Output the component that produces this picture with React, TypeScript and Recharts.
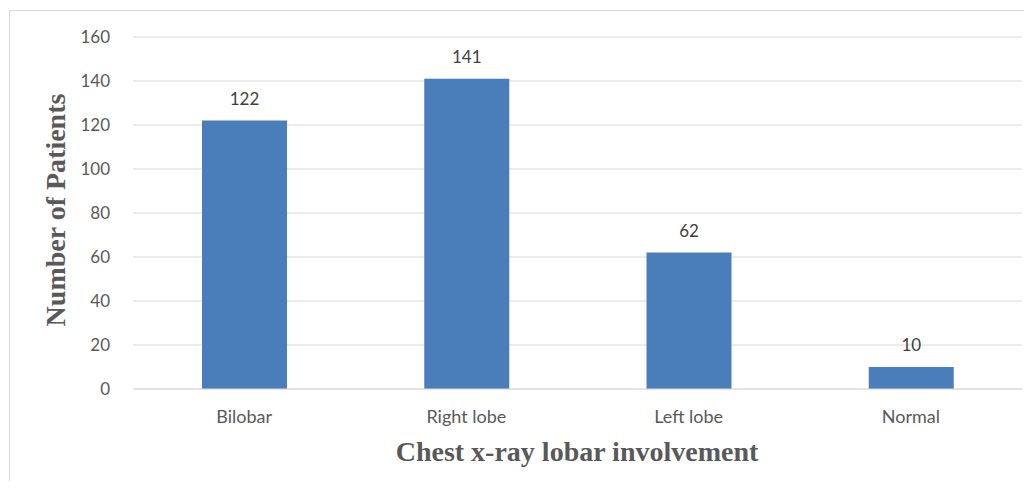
import React from "react";
import { BarChart, Bar, XAxis, YAxis, CartesianGrid, LabelList } from "recharts";

const categories = ["Bilobar", "Right lobe", "Left lobe", "Normal"];
const patients = [122, 141, 62, 10];
const yTicks = [0, 20, 40, 60, 80, 100, 120, 140, 160];

const data = categories.map((name, i) => ({ name, value: patients[i] }));

export default function App() {
  return (
    <div style={{ position: "relative", width: 1032, height: 489, margin: -8, overflow: "hidden", background: "#fff" }}>
      <div
        style={{
          position: "absolute",
          left: 9,
          top: 10,
          width: 1200,
          height: 700,
          border: "1.5px solid #d9d9d9",
          boxSizing: "border-box",
        }}
      />
      <div style={{ position: "absolute", left: 0, top: 0 }}>
        <BarChart
          width={1032}
          height={489}
          data={data}
          margin={{ top: 37, right: 10, bottom: 60, left: 0 }}
        >
          <CartesianGrid vertical={false} stroke="#d9d9d9" strokeWidth={1} />
          <XAxis
            dataKey="name"
            height={40}
            axisLine={{ stroke: "#d9d9d9" }}
            tickLine={false}
            tickSize={19}
            tick={{ fill: "#595959", fontSize: 18, fontFamily: "Lato, 'Open Sans', sans-serif" }}
          />
          <YAxis
            width={133}
            domain={[0, 160]}
            ticks={yTicks}
            interval={0}
            axisLine={false}
            tickLine={false}
            tickSize={21}
            tick={{ fill: "#595959", fontSize: 17, fontFamily: "Lato, 'Open Sans', sans-serif" }}
          />
          <Bar dataKey="value" fill="#4a7ebb" barSize={85} isAnimationActive={false}>
            <LabelList
              dataKey="value"
              position="top"
              offset={16}
              fill="#404040"
              fontSize={17}
              fontFamily="Lato, 'Open Sans', sans-serif"
            />
          </Bar>
        </BarChart>
      </div>
      <div
        style={{
          position: "absolute",
          left: 577,
          top: 452,
          transform: "translate(-50%, -50%)",
          fontFamily: "'Liberation Serif', 'Times New Roman', serif",
          fontWeight: "bold",
          fontSize: 28,
          color: "#595959",
          whiteSpace: "nowrap",
        }}
      >
        Chest x-ray lobar involvement
      </div>
      <div
        style={{
          position: "absolute",
          left: 56,
          top: 210,
          transform: "translate(-50%, -50%) rotate(-90deg)",
          fontFamily: "'Liberation Serif', 'Times New Roman', serif",
          fontWeight: "bold",
          fontSize: 28,
          color: "#595959",
          whiteSpace: "nowrap",
        }}
      >
        Number of Patients
      </div>
    </div>
  );
}
